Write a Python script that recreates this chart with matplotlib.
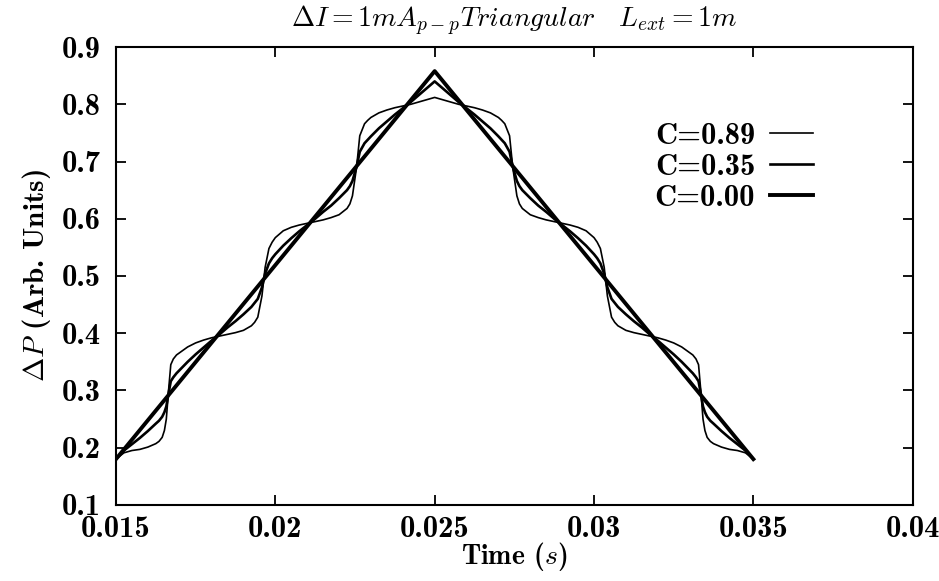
import numpy as np
import matplotlib
matplotlib.use("Agg")
import matplotlib.pyplot as plt

plt.rcParams.update({
    "font.family": ["cmb10", "DejaVu Serif"],
    "mathtext.fontset": "cm",
    "axes.unicode_minus": False,
})

# time grid shared by the two wavy curves (s)
x_wave = [0.01500, 0.01525, 0.01550, 0.01575, 0.01600, 0.01625, 0.01635, 0.01645,
          0.01652, 0.01658, 0.01665, 0.01672, 0.01680, 0.01690, 0.01725, 0.01750,
          0.01775, 0.01800, 0.01825, 0.01850, 0.01875, 0.01900, 0.01925, 0.01935,
          0.01945, 0.01958, 0.01968, 0.01980, 0.01990, 0.02000, 0.02025, 0.02050,
          0.02075, 0.02100, 0.02125, 0.02150, 0.02175, 0.02200, 0.02225, 0.02234,
          0.02242, 0.02255, 0.02265, 0.02280, 0.02290, 0.02300, 0.02325, 0.02350,
          0.02375, 0.02400, 0.02425, 0.02450, 0.02475, 0.02500,
          0.02525, 0.02550, 0.02575, 0.02600, 0.02625, 0.02650, 0.02675, 0.02700,
          0.02710, 0.02720, 0.02735, 0.02745, 0.02758, 0.02766, 0.02775, 0.02800,
          0.02825, 0.02850, 0.02875, 0.02900, 0.02925, 0.02950, 0.02975, 0.03000,
          0.03010, 0.03020, 0.03032, 0.03042, 0.03055, 0.03065, 0.03075, 0.03100,
          0.03125, 0.03150, 0.03175, 0.03200, 0.03225, 0.03250, 0.03275, 0.03310,
          0.03320, 0.03328, 0.03335, 0.03342, 0.03348, 0.03355, 0.03365, 0.03375,
          0.03400, 0.03425, 0.03450, 0.03475, 0.03500]

y_c089 = [0.180, 0.191, 0.195, 0.197, 0.201, 0.207, 0.211, 0.218,
          0.230, 0.250, 0.300, 0.345, 0.355, 0.362, 0.376, 0.383,
          0.388, 0.392, 0.395, 0.398, 0.401, 0.405, 0.413, 0.419,
          0.428, 0.465, 0.515, 0.548, 0.559, 0.567, 0.579, 0.585,
          0.589, 0.592, 0.595, 0.598, 0.602, 0.607, 0.618, 0.626,
          0.640, 0.690, 0.745, 0.766, 0.772, 0.777, 0.785, 0.790,
          0.794, 0.797, 0.800, 0.804, 0.808, 0.812,
          0.808, 0.804, 0.800, 0.797, 0.794, 0.790, 0.785, 0.777,
          0.772, 0.766, 0.745, 0.690, 0.640, 0.626, 0.618, 0.607,
          0.602, 0.598, 0.595, 0.592, 0.589, 0.585, 0.579, 0.567,
          0.559, 0.548, 0.515, 0.465, 0.428, 0.419, 0.413, 0.405,
          0.401, 0.398, 0.395, 0.392, 0.388, 0.383, 0.376, 0.362,
          0.355, 0.345, 0.300, 0.250, 0.230, 0.218, 0.211, 0.207,
          0.201, 0.197, 0.195, 0.191, 0.180]

y_c035 = [0.180, 0.195, 0.206, 0.217, 0.229, 0.242, 0.247, 0.254,
          0.262, 0.272, 0.295, 0.316, 0.323, 0.330, 0.350, 0.363,
          0.375, 0.387, 0.398, 0.410, 0.421, 0.433, 0.446, 0.453,
          0.460, 0.480, 0.504, 0.522, 0.531, 0.538, 0.553, 0.566,
          0.578, 0.589, 0.600, 0.612, 0.623, 0.636, 0.650, 0.657,
          0.666, 0.691, 0.717, 0.732, 0.738, 0.744, 0.758, 0.770,
          0.782, 0.793, 0.804, 0.816, 0.828, 0.840,
          0.828, 0.816, 0.804, 0.793, 0.782, 0.770, 0.758, 0.744,
          0.738, 0.732, 0.717, 0.691, 0.666, 0.657, 0.650, 0.636,
          0.623, 0.612, 0.600, 0.589, 0.578, 0.566, 0.553, 0.538,
          0.531, 0.522, 0.504, 0.480, 0.460, 0.453, 0.446, 0.433,
          0.421, 0.410, 0.398, 0.387, 0.375, 0.363, 0.350, 0.330,
          0.323, 0.316, 0.295, 0.272, 0.262, 0.254, 0.247, 0.242,
          0.229, 0.217, 0.206, 0.195, 0.180]

x_tri = [0.015, 0.025, 0.035]
y_c000 = [0.180, 0.858, 0.180]

x_ticks = [0.015, 0.02, 0.025, 0.03, 0.035, 0.04]
x_ticklabels = ["0.015", "0.02", "0.025", "0.03", "0.035", "0.04"]
y_ticks = [0.1, 0.2, 0.3, 0.4, 0.5, 0.6, 0.7, 0.8, 0.9]
y_ticklabels = ["0.1", "0.2", "0.3", "0.4", "0.5", "0.6", "0.7", "0.8", "0.9"]

fig = plt.figure(figsize=(9.39, 5.81), dpi=100)
ax = fig.add_axes([0.1235, 0.131, 0.8485, 0.788])

ax.plot(x_wave, y_c089, color="black", lw=1.2, label="C=0.89")
ax.plot(x_wave, y_c035, color="black", lw=1.9, label="C=0.35")
ax.plot(x_tri, y_c000, color="black", lw=2.8, label="C=0.00")

ax.set_xlim(0.015, 0.04)
ax.set_ylim(0.1, 0.9)
ax.set_xticks(x_ticks)
ax.set_xticklabels(x_ticklabels)
ax.set_yticks(y_ticks)
ax.set_yticklabels(y_ticklabels)
ax.tick_params(direction="in", length=7, width=1.3, top=True, right=True,
               labelsize=22)
ax.tick_params(axis="x", pad=8)
ax.tick_params(axis="y", pad=11)
for s in ax.spines.values():
    s.set_linewidth(1.5)

ax.set_xlabel("Time ($s$)", fontsize=20, labelpad=-2)
ax.set_ylabel(r"$\Delta P$ (Arb. Units)", fontsize=21, labelpad=6)
ax.set_title(r"$\Delta I = 1mA_{p-p}Triangular \quad L_{ext} = 1m$", fontsize=20, pad=14)

leg = ax.legend(loc="upper right", bbox_to_anchor=(0.875, 0.835), frameon=False,
                markerfirst=False, fontsize=22, handlelength=1.4,
                labelspacing=0.12, handletextpad=0.5, borderaxespad=0.0,
                borderpad=0.0)

fig.savefig("out.png", dpi=100)
